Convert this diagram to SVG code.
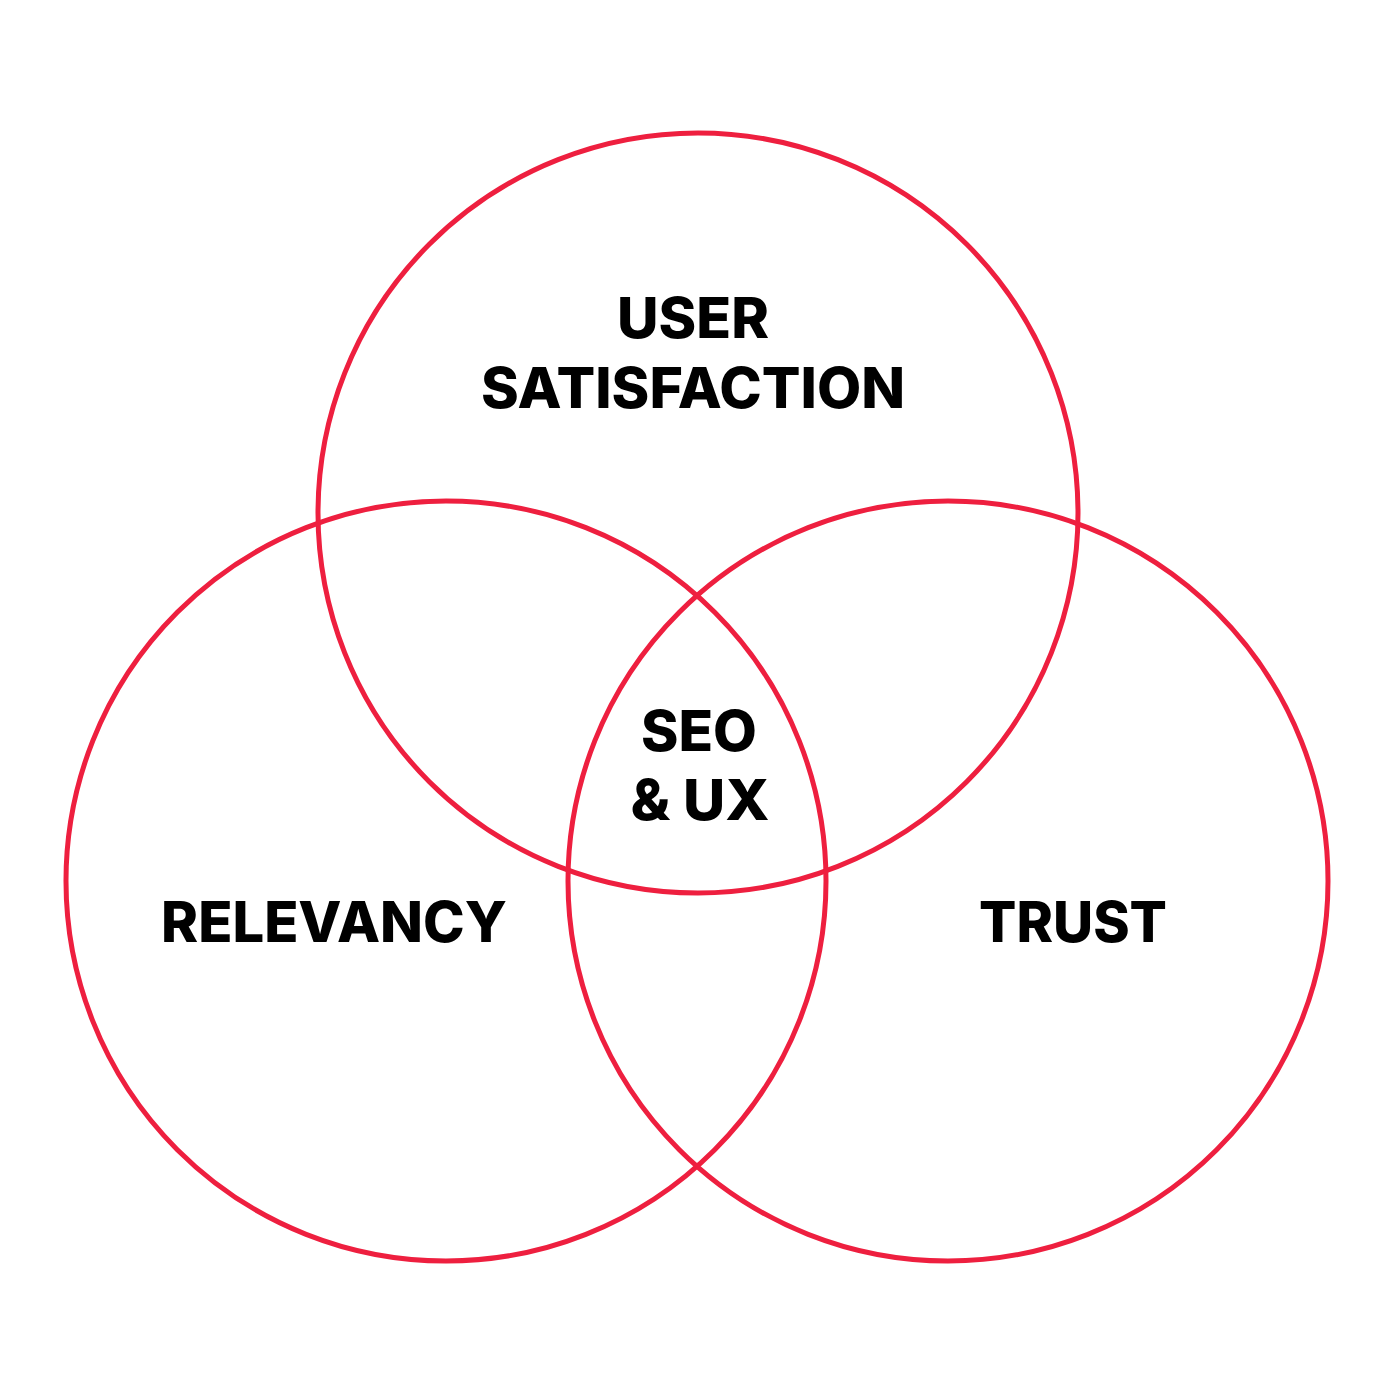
<svg xmlns="http://www.w3.org/2000/svg" width="1400" height="1400" viewBox="0 0 1400 1400">
<style>
.c{fill:none;stroke:#EE1F3F;stroke-width:5}
.t{font-family:Inter,"Liberation Sans",sans-serif;font-weight:800;font-size:56px;fill:#000;text-anchor:middle}
</style>
<rect width="1400" height="1400" fill="#fff"/>
<g id="connectors"></g>
<g id="user-satisfaction">
<circle class="c" cx="698" cy="513" r="380"/>
<text class="t" x="693" y="338" textLength="152" lengthAdjust="spacingAndGlyphs">USER</text>
<text class="t" x="693" y="408" textLength="424" lengthAdjust="spacingAndGlyphs">SATISFACTION</text>
</g>
<g id="relevancy">
<circle class="c" cx="446" cy="881" r="380"/>
<text class="t" x="334" y="942" textLength="346" lengthAdjust="spacingAndGlyphs">RELEVANCY</text>
</g>
<g id="trust">
<circle class="c" cx="948" cy="881" r="380"/>
<text class="t" x="1073" y="942" textLength="188" lengthAdjust="spacingAndGlyphs">TRUST</text>
</g>
<g id="seo-ux">
<text class="t" x="699" y="751" textLength="116" lengthAdjust="spacingAndGlyphs">SEO</text>
<text class="t" x="700" y="820" textLength="139" lengthAdjust="spacingAndGlyphs">&amp; UX</text>
</g>
</svg>
